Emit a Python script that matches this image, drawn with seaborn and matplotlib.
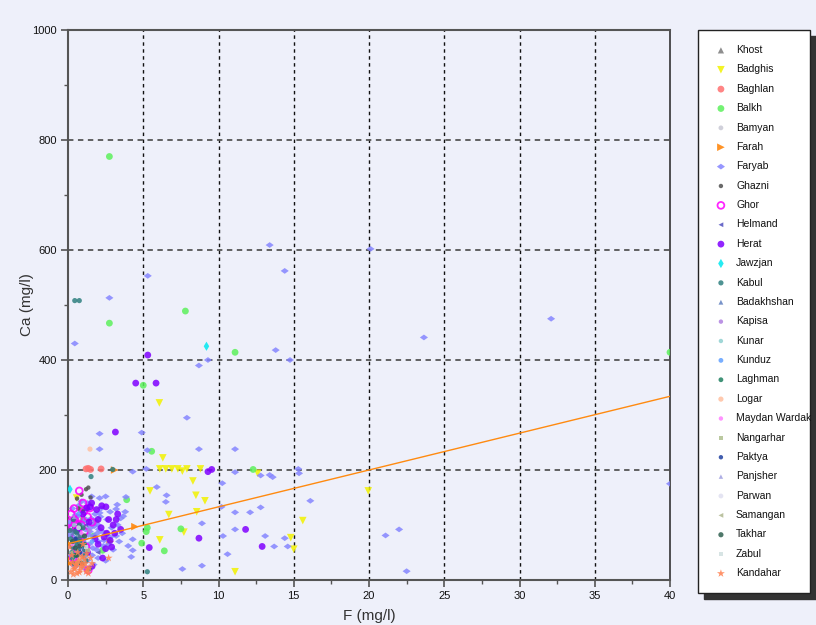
import matplotlib
matplotlib.use("Agg")
import matplotlib.pyplot as plt
import seaborn as sns
import pandas as pd
import numpy as np
from matplotlib.ticker import MultipleLocator

# ---------------- data (F mg/l, Ca mg/l) ----------------
provinces = ["Khost", "Badghis", "Baghlan", "Balkh", "Bamyan", "Farah", "Faryab",
             "Ghazni", "Ghor", "Helmand", "Herat", "Jawzjan", "Kabul", "Badakhshan",
             "Kapisa", "Kunar", "Kunduz", "Laghman", "Logar", "Maydan Wardak",
             "Nangarhar", "Paktya", "Panjsher", "Parwan", "Samangan", "Takhar",
             "Zabul", "Kandahar"]

khost_F = [0.4, 0.7, 1.0, 0.5, 1.3]
khost_Ca = [60, 90, 75, 110, 50]

badghis_F = [6.1, 6.5, 6.9, 7.3, 7.6, 7.9, 6.3, 8.3, 5.45, 8.8, 8.5, 9.1, 6.7, 8.55,
             7.7, 6.1, 6.07, 12.6, 15.6, 14.8, 15.0, 11.1, 19.95, 0.57]
badghis_Ca = [202, 202, 202, 202, 198, 202, 222, 180, 162, 202, 154, 144, 119, 124,
              87, 73, 322, 194, 108, 77, 56, 15, 162, 149]

baghlan_F = [1.2, 1.35, 1.5, 2.2, 0.3, 0.9]
baghlan_Ca = [202, 203, 201, 202, 30, 45]

balkh_F = [2.75, 2.75, 7.8, 11.1, 40.0, 5.0, 5.56, 12.3, 3.9, 7.5, 5.27, 5.2, 4.9,
           6.4, 2.3, 1.0, 0.6, 1.7, 0.8]
balkh_Ca = [770, 467, 489, 414, 414, 354, 234, 201, 146, 93, 95, 88, 67,
            53, 54, 110, 60, 80, 130]

bamyan_F = [0.5, 1.1, 0.8]
bamyan_Ca = [55, 95, 140]

farah_F = [1.9, 4.45, 0.13, 0.0, 2.8, 3.1, 0.05]
farah_Ca = [106, 97, 65, 38, 70, 200, 30]

faryab_F = [13.4, 20.1, 5.3, 14.4, 2.75, 32.1, 23.65, 0.45, 13.8, 14.75, 9.3, 8.7,
            7.9, 2.1, 4.9, 2.1, 5.27, 8.7, 11.1, 4.3, 5.2, 11.1, 12.8, 13.4, 13.6,
            15.3, 15.35, 10.25, 5.9, 6.55, 6.5, 3.85, 16.1, 10.2, 11.1, 12.1, 12.8,
            3.67, 3.2, 8.9, 11.1, 10.3, 13.1, 14.4, 13.7, 14.6, 10.6, 4.2, 8.9, 7.6,
            21.1, 22.0, 22.5, 40.0, 4.3, 4.3, 3.27, 3.8, 2.8, 0.9, 1.57, 2.1, 2.5,
            0.1, 0.3, 0.6, 0.9, 1.2, 1.5, 1.8, 2.0, 2.3, 2.6, 2.9, 3.2, 0.4, 0.8,
            1.1, 1.4, 1.7, 2.0, 2.4, 2.7, 3.0, 0.2, 0.6, 1.0, 1.3, 1.6, 2.0, 2.5,
            0.5, 1.1, 1.7, 3.6, 3.4, 4.0, 0.7, 1.3, 2.2, 1.9, 0.3,
            0.15, 0.35, 0.55, 0.75, 0.95, 1.15, 1.35, 1.55, 1.75, 1.95, 2.15,
            0.25, 0.45, 0.65, 0.85, 1.05, 1.25, 1.45, 1.65, 1.85, 2.05, 2.35,
            0.1, 0.5, 0.9, 1.3, 1.7, 2.1, 2.6, 3.3, 3.5, 2.8]
faryab_Ca = [609, 602, 553, 562, 513, 475, 441, 430, 418, 400, 400, 390,
             295, 266, 268, 238, 236, 238, 238, 197, 202, 196, 190, 191, 187,
             202, 194, 176, 169, 154, 142, 151, 144, 133, 123, 123, 132,
             116, 129, 103, 92, 80, 80, 76, 61, 61, 47, 42, 26, 20,
             81, 92, 16, 175, 74, 54, 137, 124, 124, 143, 152, 149, 152,
             106, 90, 115, 125, 110, 95, 120, 100, 88, 110, 95, 80, 70, 60,
             75, 65, 80, 70, 72, 65, 55, 45, 40, 50, 35, 45, 40, 35,
             25, 22, 28, 85, 70, 62, 135, 140, 130, 55, 130,
             100, 78, 95, 85, 105, 92, 82, 112, 98, 85, 115,
             60, 58, 48, 102, 68, 58, 88, 58, 108, 92, 62,
             82, 118, 72, 128, 102, 122, 85, 100, 112, 78]

ghazni_F = [0.6, 0.9, 1.2, 1.35, 0.7, 1.0, 1.5, 0.4, 0.8]
ghazni_Ca = [148, 155, 165, 168, 130, 125, 150, 95, 75]

ghor_F = [0.75, 1.46, 0.46, 0.62, 0.3, 0.9, 1.1, 0.5, 1.3, 0.2, 0.8, 1.6, 1.0,
          1.35, 0.47, 0.6, 1.2, 0.35, 0.15, 0.7, 1.05, 0.4, 0.55]
ghor_Ca = [162, 131, 109, 102, 95, 100, 88, 80, 115, 120, 70, 105, 140,
           18, 103, 55, 60, 40, 105, 112, 125, 130, 92]

helmand_F = [0.5, 1.2, 2.0]
helmand_Ca = [70, 100, 50]

herat_F = [4.5, 5.85, 5.3, 3.15, 9.3, 9.55, 11.8, 8.7, 12.9, 5.4, 1.57, 1.47, 1.24,
           2.24, 2.52, 2.57, 3.1, 2.5, 2.3, 3.0, 2.0, 1.8, 2.9, 3.3, 2.2, 1.0, 0.6,
           1.3, 2.0, 2.7, 1.6, 1.9, 2.4, 3.5, 1.4, 2.8, 3.2]
herat_Ca = [358, 358, 409, 269, 197, 201, 92, 76, 61, 59, 140, 133, 131,
            135, 133, 85, 85, 57, 40, 100, 110, 75, 60, 120, 95, 120, 90,
            50, 65, 110, 25, 128, 78, 92, 105, 72, 110]

jawzjan_F = [9.2, 0.13]
jawzjan_Ca = [425, 165]

kabul_F = [0.45, 0.75, 2.97, 1.53, 5.27, 0.3, 0.5, 0.8, 0.4, 1.1, 0.6, 0.9, 0.2,
           1.2, 0.7, 1.0, 0.35, 1.4, 0.25, 0.55, 0.85, 0.15, 0.65, 0.95, 0.45,
           1.15, 0.75, 0.3, 0.6]
kabul_Ca = [508, 508, 201, 188, 15, 60, 45, 70, 30, 55, 85, 40, 75,
            35, 55, 95, 110, 20, 50, 65, 80, 90, 30, 62, 88, 45, 100, 40, 75]

badakhshan_F = [0.3, 0.9]
badakhshan_Ca = [85, 60]
kapisa_F = [0.6, 1.4]
kapisa_Ca = [50, 90]
kunar_F = [0.4, 1.0]
kunar_Ca = [100, 35]
kunduz_F = [0.7, 1.6]
kunduz_Ca = [120, 70]
laghman_F = [0.5, 1.1, 0.8]
laghman_Ca = [45, 65, 95]
logar_F = [1.46, 0.8]
logar_Ca = [238, 40]
wardak_F = [0.9, 0.3]
wardak_Ca = [85, 65]
nangarhar_F = [0.6, 1.3]
nangarhar_Ca = [30, 55]
paktya_F = [0.5, 0.8]
paktya_Ca = [75, 50]
panjsher_F = [1.2, 0.4]
panjsher_Ca = [45, 115]
parwan_F = [0.7, 1.5]
parwan_Ca = [95, 30]
samangan_F = [1.0, 0.2]
samangan_Ca = [30, 50]
takhar_F = [0.6, 0.9, 0.3, 1.1, 0.5, 0.8]
takhar_Ca = [45, 30, 70, 80, 58, 62]
zabul_F = [0.4, 1.2]
zabul_Ca = [20, 60]

kandahar_F = [0.2, 0.4, 0.6, 0.8, 1.0, 1.2, 1.4, 1.6, 0.3, 0.7, 1.1, 0.5, 0.9, 1.3,
              0.25, 0.65, 1.5, 0.1, 2.7, 1.0, 0.35, 0.55, 0.75, 0.95, 1.15, 1.35,
              0.45, 0.85, 1.25]
kandahar_Ca = [15, 20, 12, 18, 25, 15, 22, 30, 32, 35, 38, 28, 30, 20,
               45, 50, 40, 60, 40, 65, 10, 28, 14, 42, 30, 12, 22, 25, 48]

fit_F = [0, 40]
fit_Ca = [66, 334]

series = {
    "Khost": (khost_F, khost_Ca), "Badghis": (badghis_F, badghis_Ca),
    "Baghlan": (baghlan_F, baghlan_Ca), "Balkh": (balkh_F, balkh_Ca),
    "Bamyan": (bamyan_F, bamyan_Ca), "Farah": (farah_F, farah_Ca),
    "Faryab": (faryab_F, faryab_Ca), "Ghazni": (ghazni_F, ghazni_Ca),
    "Ghor": (ghor_F, ghor_Ca), "Helmand": (helmand_F, helmand_Ca),
    "Herat": (herat_F, herat_Ca), "Jawzjan": (jawzjan_F, jawzjan_Ca),
    "Kabul": (kabul_F, kabul_Ca), "Badakhshan": (badakhshan_F, badakhshan_Ca),
    "Kapisa": (kapisa_F, kapisa_Ca), "Kunar": (kunar_F, kunar_Ca),
    "Kunduz": (kunduz_F, kunduz_Ca), "Laghman": (laghman_F, laghman_Ca),
    "Logar": (logar_F, logar_Ca), "Maydan Wardak": (wardak_F, wardak_Ca),
    "Nangarhar": (nangarhar_F, nangarhar_Ca), "Paktya": (paktya_F, paktya_Ca),
    "Panjsher": (panjsher_F, panjsher_Ca), "Parwan": (parwan_F, parwan_Ca),
    "Samangan": (samangan_F, samangan_Ca), "Takhar": (takhar_F, takhar_Ca),
    "Zabul": (zabul_F, zabul_Ca), "Kandahar": (kandahar_F, kandahar_Ca),
}

# ---------------- styles ----------------
diamond = [(-1.4, 0), (0, 1.0), (1.4, 0), (0, -1.0), (-1.4, 0)]
styles = {
    "Khost": dict(marker="^", color="#7a7a7a", s=20),
    "Badghis": dict(marker="v", color="#f2f200", s=30),
    "Baghlan": dict(marker="o", color="#ff7070", s=24),
    "Balkh": dict(marker="o", color="#5cf05c", s=24),
    "Bamyan": dict(marker="o", color="#c8c8d4", s=12),
    "Farah": dict(marker=">", color="#ff8000", s=30),
    "Faryab": dict(marker=diamond, color="#8585ff", s=34),
    "Ghazni": dict(marker="o", color="#505050", s=10),
    "Ghor": dict(marker="o", color="#ff00ff", s=24, hollow=True),
    "Helmand": dict(marker="<", color="#5050c0", s=12),
    "Herat": dict(marker="o", color="#8000ff", s=24),
    "Jawzjan": dict(marker="d", color="#00e8f0", s=22),
    "Kabul": dict(marker="o", color="#2f8080", s=14),
    "Badakhshan": dict(marker="^", color="#6080c0", s=12),
    "Kapisa": dict(marker="o", color="#b080e0", s=10),
    "Kunar": dict(marker="o", color="#90d0d0", s=10),
    "Kunduz": dict(marker="o", color="#60a0ff", s=12),
    "Laghman": dict(marker="o", color="#208060", s=12),
    "Logar": dict(marker="o", color="#ffc0a0", s=14),
    "Maydan Wardak": dict(marker="o", color="#ff80ff", s=10),
    "Nangarhar": dict(marker="s", color="#b0c090", s=10),
    "Paktya": dict(marker="o", color="#2040a0", s=10),
    "Panjsher": dict(marker="^", color="#a0a0e0", s=10),
    "Parwan": dict(marker="o", color="#e0e0f0", s=12),
    "Samangan": dict(marker="<", color="#b0b890", s=12),
    "Takhar": dict(marker="o", color="#306050", s=14),
    "Zabul": dict(marker="s", color="#d0e0e0", s=10),
    "Kandahar": dict(marker="*", color="#ff8050", s=36),
}

rows = []
for p in provinces:
    fx, cy = series[p]
    for a, b in zip(fx, cy):
        rows.append((p, a, b))
df = pd.DataFrame(rows, columns=["Province", "F", "Ca"])

bg = "#eef0fa"
sns.set_theme(style="white")
plt.rcParams["font.family"] = ["Liberation Sans", "DejaVu Sans"]

fig = plt.figure(figsize=(8.16, 6.25), dpi=100, facecolor=bg)
ax = fig.add_axes([68 / 816, 1 - 580 / 625, (670 - 68) / 816, (580 - 30) / 625])
ax.set_facecolor(bg)

for p in provinces:
    st = styles[p]
    sub = df[df["Province"] == p]
    if st.get("hollow"):
        sns.scatterplot(data=sub, x="F", y="Ca", ax=ax, marker=st["marker"], s=st["s"],
                        facecolors="none", edgecolor=st["color"], linewidth=1.3,
                        alpha=0.85, label=p, zorder=3)
    else:
        sns.scatterplot(data=sub, x="F", y="Ca", ax=ax, marker=st["marker"], s=st["s"],
                        color=st["color"], edgecolor="none", linewidth=0,
                        alpha=0.85, label=p, zorder=3)

sns.lineplot(x=fit_F, y=fit_Ca, ax=ax, color="#ff8a10", linewidth=1.0, zorder=4,
             legend=False)

ax.set_xlim(0, 40)
ax.set_ylim(0, 1000)
ax.xaxis.set_major_locator(MultipleLocator(5))
ax.xaxis.set_minor_locator(MultipleLocator(2.5))
ax.yaxis.set_major_locator(MultipleLocator(200))
ax.yaxis.set_minor_locator(MultipleLocator(100))

for v in range(5, 40, 5):
    ax.axvline(v, color="#111111", linestyle=(0, (2.5, 2.5)), linewidth=1.0, zorder=1)
for v in range(200, 1000, 200):
    ax.axhline(v, color="#555555", linestyle=(0, (3, 2.5)), linewidth=1.3, zorder=1)

for side in ["left", "bottom", "right", "top"]:
    ax.spines[side].set_visible(True)
    ax.spines[side].set_color("#555555")
    ax.spines[side].set_linewidth(1.5)
ax.spines["right"].set_color("#333333")
ax.spines["right"].set_linewidth(1.2)

ax.tick_params(axis="both", which="major", direction="out", length=5, width=1.2,
               color="#555555", labelsize=8, labelcolor="#111111",
               bottom=True, left=True, pad=3)
ax.tick_params(axis="both", which="minor", direction="out", length=3, width=1.0,
               color="#555555", bottom=True, left=True)
ax.set_xlabel("F (mg/l)", fontsize=11, color="#333333", labelpad=6)
ax.set_ylabel("Ca (mg/l)", fontsize=11, color="#333333", labelpad=-1)

h, l = ax.get_legend_handles_labels()
if ax.legend_:
    ax.legend_.remove()
leg = fig.legend(h, l, loc="upper left", bbox_to_anchor=(698 / 816, 1 - 30 / 625, 112 / 816, 0.0),
                 mode="expand", frameon=True, fancybox=False, fontsize=7.5,
                 labelspacing=0.9, handletextpad=0.7, borderpad=1.45, handlelength=1.5,
                 borderaxespad=0, shadow={"color": "#333333", "alpha": 1.0, "ox": 4, "oy": -4})
leg.get_frame().set_facecolor("white")
leg.get_frame().set_edgecolor("#222222")
leg.get_frame().set_linewidth(1.0)
for t in leg.get_texts():
    t.set_color("#111111")

fig.savefig("out.png", dpi=100, facecolor=bg)
